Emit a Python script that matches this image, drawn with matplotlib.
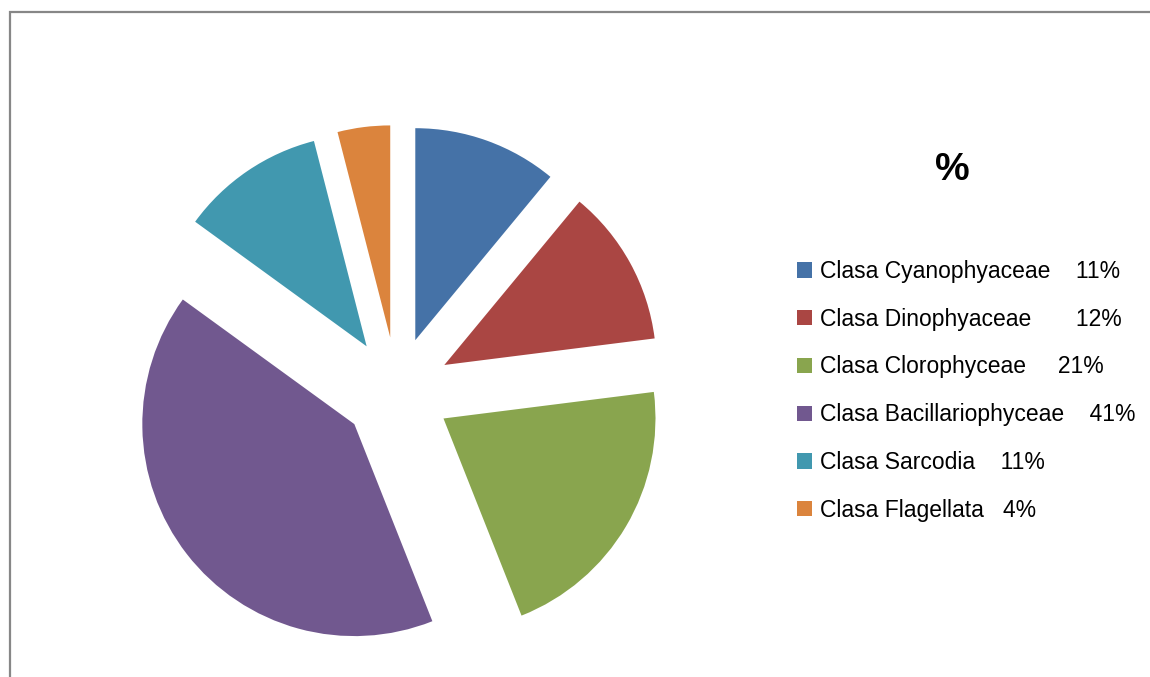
import matplotlib.pyplot as plt
from matplotlib.patches import Patch, Rectangle

# data
names = ['Clasa Cyanophyaceae', 'Clasa Dinophyaceae', 'Clasa Clorophyceae',
         'Clasa Bacillariophyceae', 'Clasa Sarcodia', 'Clasa Flagellata']
values = [11, 12, 21, 41, 11, 4]
gaps = [4, 7, 5, 4, 4, 3]  # spaces between name and % in the legend text
colors = ['#4572A7', '#AA4643', '#89A54E', '#71588F', '#4198AF', '#DB843D']

W, H = 1150, 677
fig = plt.figure(figsize=(W / 100, H / 100), dpi=100)

# pie axes: centre at (397, 391) px, radius 212 px
cx, cy, R, S = 397, 391, 212, 560
ax = fig.add_axes([(cx - S / 2) / W, (H - cy - S / 2) / H, S / W, S / H])
ax.pie(values, colors=colors, startangle=90, counterclock=False,
       explode=[54 / R] * len(values), radius=1,
       wedgeprops=dict(linewidth=0))
L = S / 2 / R
ax.set_xlim(-L, L)
ax.set_ylim(-L, L)
ax.axis('off')

# legend
labels = [n + ' ' * g + '%d%%' % v for n, g, v in zip(names, gaps, values)]
handles = [Patch(facecolor=c, edgecolor='none') for c in colors]
fig.legend(handles, labels, loc='upper left', bbox_to_anchor=(797 / W, 1 - 260 / H),
           frameon=False, prop=dict(family='Liberation Sans', size=16.5),
           handlelength=0.65, handleheight=0.65, handletextpad=0.35,
           labelspacing=1.08, borderpad=0, borderaxespad=0)

fig.text(952 / W, 1 - 170 / H, '%', ha='center', va='center',
         fontsize=28, fontweight='bold', family='Liberation Sans')

# chart frame (cut off at right and bottom)
fig.add_artist(Rectangle((9.5 / W, -0.1), 1.2, 1.1 - 12 / H, transform=fig.transFigure,
                         fill=False, edgecolor='#878787', linewidth=1.6))

fig.savefig('out.png', dpi=100, facecolor='white')
